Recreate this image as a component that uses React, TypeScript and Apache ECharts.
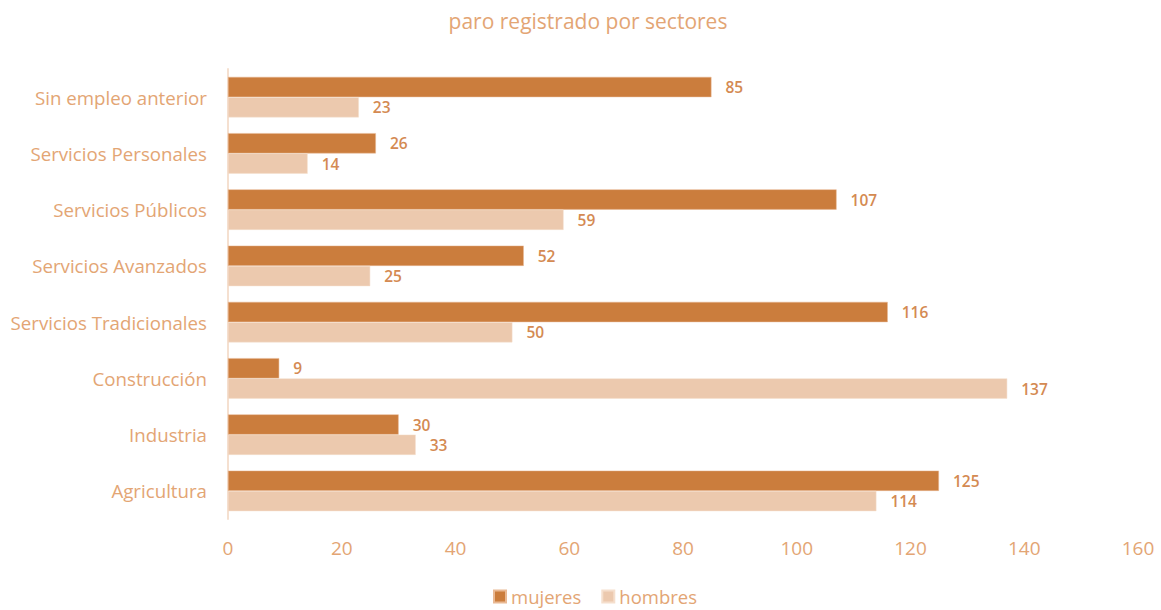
import React, { useEffect, useRef } from "react";
import * as echarts from "echarts";

const categories = [
  "Sin empleo anterior",
  "Servicios Personales",
  "Servicios Públicos",
  "Servicios Avanzados",
  "Servicios Tradicionales",
  "Construcción",
  "Industria",
  "Agricultura",
];
const mujeres = [85, 26, 107, 52, 116, 9, 30, 125];
const hombres = [23, 14, 59, 25, 50, 137, 33, 114];
const xTicks = { min: 0, max: 160, interval: 20 };

const FONT = "'Open Sans', Lato, sans-serif";
const TEXT = "#E3A574";
const LABEL = "#D48A52";

export default function App() {
  const ref = useRef<HTMLDivElement>(null);
  useEffect(() => {
    const chart = echarts.init(ref.current!, null, { renderer: "svg" });
    chart.setOption({
      animation: false,
      backgroundColor: "#ffffff",
      textStyle: { fontFamily: FONT },
      title: {
        text: "paro registrado por sectores",
        left: 583,
        textAlign: "center",
        top: 5,
        textStyle: { color: TEXT, fontSize: 21, fontWeight: "normal", fontFamily: FONT },
      },
      legend: {
        bottom: -1,
        left: 488,
        itemWidth: 12,
        itemHeight: 12,
        itemGap: 20,
        icon: "rect",
        textStyle: { color: TEXT, fontSize: 18.5, fontFamily: FONT },
        data: ["mujeres", "hombres"],
      },
      grid: { left: 228, right: 23, top: 69, bottom: 91, containLabel: false },
      xAxis: {
        type: "value",
        min: xTicks.min,
        max: xTicks.max,
        interval: xTicks.interval,
        axisLine: { show: false },
        axisTick: { show: false },
        splitLine: { show: false },
        axisLabel: { color: TEXT, fontSize: 19, margin: 19, fontFamily: FONT },
      },
      yAxis: {
        type: "category",
        inverse: true,
        data: categories,
        axisLine: { show: true, lineStyle: { color: "#F5E0D0", width: 2 } },
        axisTick: { show: false },
        axisLabel: { color: TEXT, fontSize: 18.7, margin: 21, fontFamily: FONT },
      },
      series: [
        {
          name: "mujeres",
          type: "bar",
          data: mujeres,
          barGap: "0%",
          barCategoryGap: "28%",
          itemStyle: { color: "#CB7D3D", borderColor: "#E9B994", borderWidth: 0.5 },
          label: {
            show: true,
            position: "right",
            distance: 14,
            color: LABEL,
            fontSize: 15.5,
            fontWeight: 600,
            fontFamily: FONT,
          },
        },
        {
          name: "hombres",
          type: "bar",
          data: hombres,
          barGap: "0%",
          barCategoryGap: "28%",
          itemStyle: { color: "#ECC9AE", borderColor: "#F5DFCD", borderWidth: 0.5 },
          label: {
            show: true,
            position: "right",
            distance: 14,
            color: LABEL,
            fontSize: 15.5,
            fontWeight: 600,
            fontFamily: FONT,
          },
        },
      ],
    });
    return () => chart.dispose();
  }, []);
  return (
    <div
      ref={ref}
      style={{ position: "absolute", left: 0, top: 0, width: 1161, height: 610 }}
    />
  );
}
